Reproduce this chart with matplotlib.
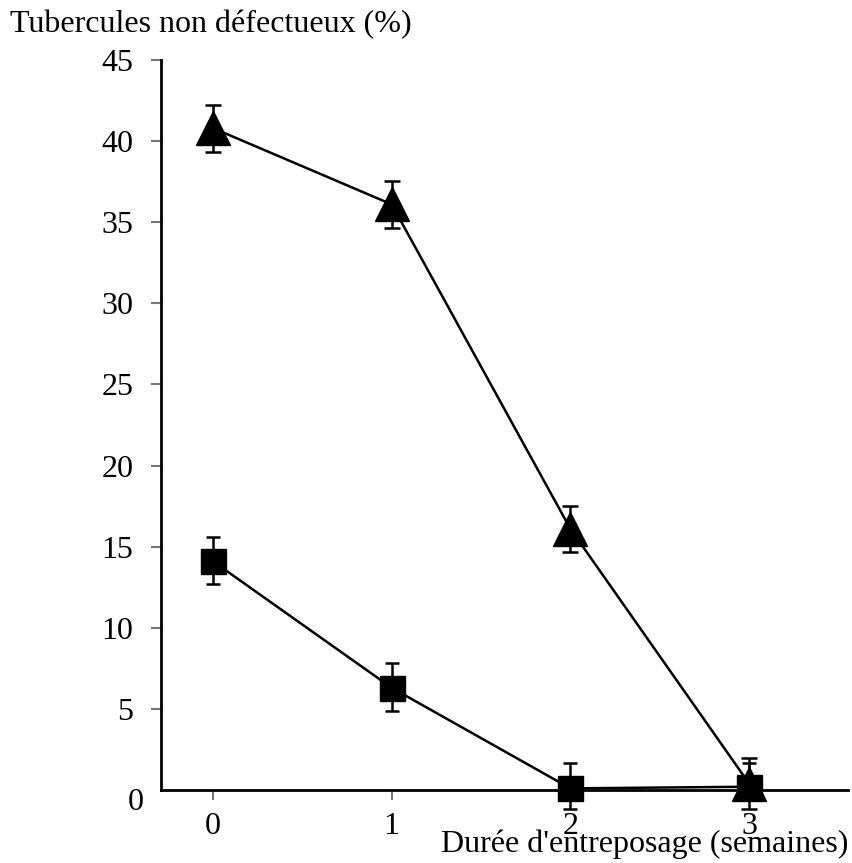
import matplotlib.pyplot as plt

# durée d'entreposage (semaines)
semaines = [0, 1, 2, 3]

# tubercules non défectueux (%)
triangle_vals = [40.8, 36.1, 16.1, 0.4]
triangle_err_bas = [1.45, 1.45, 1.45, 1.6]
triangle_err_haut = [1.45, 1.45, 1.4, 1.6]

carre_vals = [14.1, 6.3, 0.1, 0.2]
carre_err_bas = [1.4, 1.4, 1.3, 0.8]
carre_err_haut = [1.5, 1.5, 1.55, 1.45]

# the 0 of the y axis is drawn apart, lower and without a tick
y_ticks = [5, 10, 15, 20, 25, 30, 35, 40, 45]

plt.rcParams['font.family'] = ['Liberation Serif', 'DejaVu Serif']

fig = plt.figure(figsize=(8.53, 8.63), dpi=100)
ax = fig.add_axes([0.1887, 0.0846, 0.8053, 0.8459])

ax.errorbar(semaines, triangle_vals, yerr=[triangle_err_bas, triangle_err_haut],
            color='black', marker='^', markersize=24, linewidth=1.8,
            elinewidth=1.8, capsize=5.5, capthick=1.8, clip_on=False, zorder=3)
ax.errorbar(semaines, carre_vals, yerr=[carre_err_bas, carre_err_haut],
            color='black', marker='s', markersize=18, linewidth=1.8,
            elinewidth=1.8, capsize=5, capthick=1.8, clip_on=False, zorder=3)

ax.set_xlim(-0.291, 3.553)
ax.set_ylim(0, 45)
ax.set_xticks(semaines)
ax.set_yticks(y_ticks)

for s in ['top', 'right']:
    ax.spines[s].set_visible(False)
for s in ['left', 'bottom']:
    ax.spines[s].set_linewidth(2)

ax.tick_params(axis='both', direction='out', length=7, width=1.5,
               color='#777777', labelsize=23, pad=9)
ax.tick_params(axis='y', pad=13)

ax.annotate('0', xy=(0, 0), xycoords='axes fraction', xytext=(-25, -13),
            textcoords='offset pixels', fontsize=23, ha='center', va='center')

fig.text(0.012, 0.971, 'Tubercules non défectueux (%)', fontsize=23,
         ha='left', va='center')
fig.text(0.994, 0.022, "Durée d'entreposage (semaines)", fontsize=23,
         ha='right', va='center')

fig.savefig('out.png', dpi=100)
